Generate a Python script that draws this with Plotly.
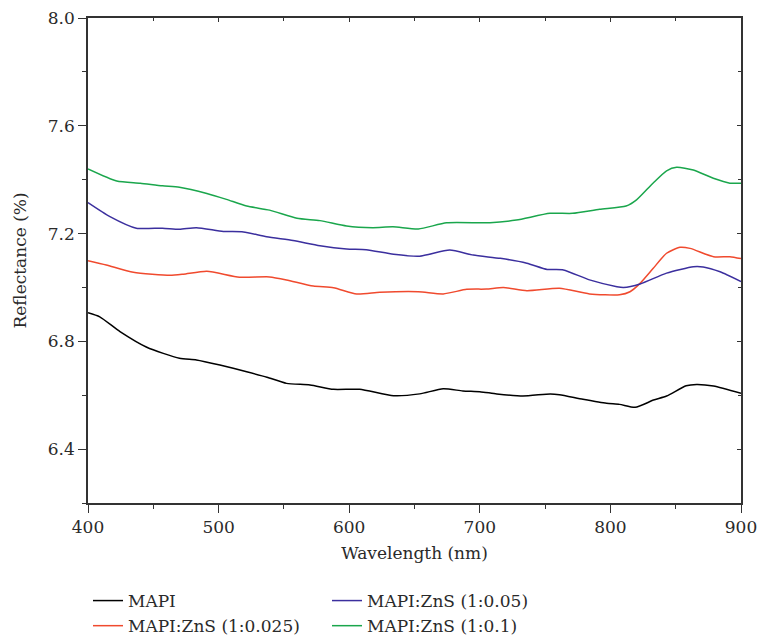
import plotly.graph_objects as go

# ---- data ----
mapi_x = [400, 409, 424.5, 445, 470, 483, 501, 521.5, 537, 552, 570, 588, 608, 634, 654,
          672, 687, 700, 713, 733, 754, 761, 779, 797, 807, 819, 833, 843, 858, 866, 879, 900]
mapi_y = [6.906, 6.891, 6.836, 6.778, 6.737, 6.731, 6.712, 6.687, 6.667, 6.644, 6.638, 6.622, 6.622, 6.598, 6.605,
          6.624, 6.616, 6.613, 6.605, 6.597, 6.605, 6.602, 6.585, 6.570, 6.566, 6.555, 6.582, 6.597, 6.635, 6.640, 6.634, 6.607]

r025_x = [400, 414, 434.7, 462.8, 473, 491, 516, 539, 552, 572.5, 588, 605.7, 623.5, 653,
          672, 690, 705, 718, 736, 761, 784, 807, 815, 822.7, 832.8, 843, 853.3, 861, 879, 891.5, 900]
r025_y = [7.099, 7.083, 7.056, 7.045, 7.049, 7.060, 7.038, 7.039, 7.028, 7.005, 6.999, 6.976, 6.982, 6.984,
          6.976, 6.993, 6.994, 7.000, 6.988, 6.997, 6.976, 6.973, 6.984, 7.015, 7.071, 7.127, 7.149, 7.145, 7.114, 7.114, 7.107]

r05_x = [400, 416.8, 437, 457, 470, 483, 503.6, 519, 536.8, 557, 577.6, 598, 613, 634, 654,
         677, 695, 715.7, 736, 751.6, 764, 784, 805, 810, 822.7, 843, 863.5, 871, 884, 900]
r05_y = [7.315, 7.263, 7.220, 7.220, 7.216, 7.222, 7.208, 7.206, 7.188, 7.174, 7.155, 7.143, 7.140, 7.123, 7.116,
         7.139, 7.120, 7.108, 7.090, 7.067, 7.065, 7.028, 7.003, 7.000, 7.013, 7.053, 7.077, 7.076, 7.058, 7.022]

r1_x = [400, 422, 440, 457, 470, 491, 506, 521.5, 539, 560, 577.6, 598, 618, 633.5, 653,
        674.6, 707.8, 728, 753.7, 771, 791.7, 812, 820, 832.6, 843, 850.7, 863.5, 878.8, 891.5, 900]
r1_y = [7.440, 7.395, 7.387, 7.377, 7.372, 7.349, 7.327, 7.302, 7.287, 7.257, 7.248, 7.228, 7.222, 7.225, 7.217,
        7.240, 7.240, 7.250, 7.275, 7.275, 7.290, 7.302, 7.325, 7.387, 7.433, 7.446, 7.436, 7.405, 7.387, 7.387]

series_names = ["MAPI", "MAPI:ZnS (1:0.025)", "MAPI:ZnS (1:0.05)", "MAPI:ZnS (1:0.1)"]
x_range = [400, 900]
y_range = [6.2, 8.0]
x_ticks = [400, 500, 600, 700, 800, 900]
y_ticks = [6.4, 6.8, 7.2, 7.6, 8.0]
y_tick_text = ["6.4", "6.8", "7.2", "7.6", "8.0"]

colors = ["#000000", "#f04a2e", "#3b2f9e", "#1aa64c"]
ranks = [1, 3, 2, 4]
FONT = "DejaVu Serif"
AX = "#333333"
TXT = "#2a2a2a"

fig = go.Figure()
for xs, ys, name, c, rk in zip([mapi_x, r025_x, r05_x, r1_x], [mapi_y, r025_y, r05_y, r1_y],
                               series_names, colors, ranks):
    fig.add_trace(go.Scatter(x=xs, y=ys, name=name, mode="lines",
                             line=dict(color=c, width=1.5, shape="spline", smoothing=0.6),
                             legendrank=rk))

# invisible trace to hold the mirrored top/right axes
fig.add_trace(go.Scatter(x=mapi_x, y=mapi_y, xaxis="x2", yaxis="y2", mode="lines",
                         line=dict(color="rgba(0,0,0,0)"), showlegend=False, hoverinfo="skip"))

common = dict(showgrid=False, zeroline=False, showline=True, linecolor=AX, linewidth=1.5,
              tickcolor=AX, tickwidth=1.2, automargin=False)

fig.update_layout(
    width=758, height=642,
    paper_bgcolor="white", plot_bgcolor="white",
    margin=dict(l=88, r=17, t=18, b=139, autoexpand=False),
    font=dict(family=FONT, size=17, color=TXT),
    xaxis=dict(range=x_range, tickvals=x_ticks, ticks="outside", ticklen=8,
               minor=dict(dtick=50, ticks="outside", ticklen=4, tickcolor=AX, tickwidth=1.2),
               title=dict(text="Wavelength (nm)", standoff=11, font=dict(size=17)),
               tickfont=dict(size=17), **common),
    yaxis=dict(range=y_range, tickvals=y_ticks, ticktext=y_tick_text, ticks="outside", ticklen=8,
               minor=dict(dtick=0.2, ticks="outside", ticklen=4, tickcolor=AX, tickwidth=1.2),
               title=dict(text="Reflectance (%)", standoff=17, font=dict(size=17)),
               tickfont=dict(size=17), **common),
    xaxis2=dict(range=x_range, overlaying="x", side="top", anchor="y", tickvals=x_ticks,
                ticks="inside", ticklen=4, showticklabels=False,
                minor=dict(dtick=50, ticks="inside", ticklen=3, tickcolor=AX, tickwidth=1.2), **common),
    yaxis2=dict(range=y_range, overlaying="y", side="right", anchor="x", tickvals=y_ticks,
                ticks="inside", ticklen=4, showticklabels=False,
                minor=dict(dtick=0.2, ticks="inside", ticklen=3, tickcolor=AX, tickwidth=1.2), **common),
    legend=dict(orientation="h", x=0, xanchor="left", y=-0.165, yanchor="top",
                entrywidth=194, font=dict(size=17), tracegroupgap=0, itemwidth=30),
    showlegend=True,
)

fig.write_html("out.html")
